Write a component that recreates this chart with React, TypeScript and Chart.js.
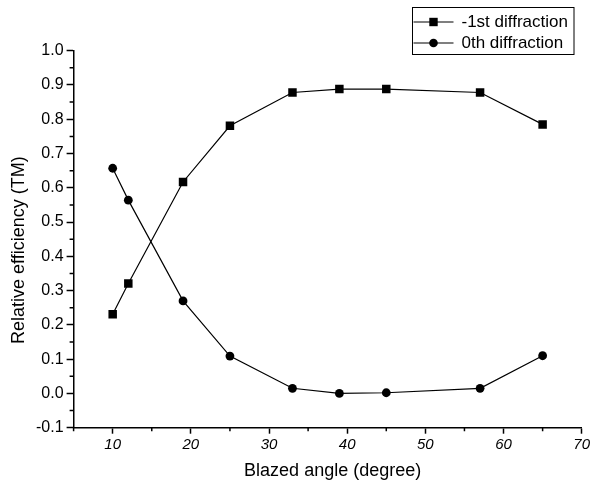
import React, { useEffect, useRef } from "react";
import { Chart, registerables } from "chart.js";

Chart.register(...registerables);

// ---- data ----
const blazedAngles = [10, 12, 19, 25, 33, 39, 45, 57, 65];
const firstOrder = [0.231, 0.321, 0.617, 0.781, 0.878, 0.888, 0.888, 0.878, 0.785];
const zeroOrder = [0.657, 0.564, 0.27, 0.109, 0.015, 0.0, 0.002, 0.015, 0.11];
const seriesLabels = ["-1st diffraction", "0th diffraction"];
const xTicks = [10, 20, 30, 40, 50, 60, 70];
const xMinorTicks = [5, 15, 25, 35, 45, 55, 65];
const yTicks = [-0.1, 0.0, 0.1, 0.2, 0.3, 0.4, 0.5, 0.6, 0.7, 0.8, 0.9, 1.0];
const yMinorTicks = [-0.05, 0.05, 0.15, 0.25, 0.35, 0.45, 0.55, 0.65, 0.75, 0.85, 0.95];
const xTitle = "Blazed angle (degree)";
const yTitle = "Relative efficiency (TM)";

const FONT = "'Liberation Sans', Arial, sans-serif";

const minorTickPlugin = {
  id: "minorTicks",
  afterDraw(chart: any) {
    const { ctx, chartArea, scales } = chart;
    ctx.save();
    ctx.strokeStyle = "#000";
    ctx.lineWidth = 1.5;
    ctx.beginPath();
    xMinorTicks.forEach((v) => {
      const px = scales.x.getPixelForValue(v);
      ctx.moveTo(px, chartArea.bottom);
      ctx.lineTo(px, chartArea.bottom + 3.5);
    });
    yMinorTicks.forEach((v) => {
      const py = scales.y.getPixelForValue(v);
      ctx.moveTo(chartArea.left, py);
      ctx.lineTo(chartArea.left - 4, py);
    });
    ctx.stroke();
    ctx.restore();
  },
};

const titlesPlugin = {
  id: "axisTitles",
  afterDraw(chart: any) {
    const { ctx, chartArea } = chart;
    ctx.save();
    ctx.fillStyle = "#000";
    ctx.font = `18px ${FONT}`;
    ctx.textAlign = "center";
    ctx.textBaseline = "middle";
    const cx = (chartArea.left + chartArea.right) / 2 + 5;
    ctx.fillText(xTitle, cx, chartArea.bottom + 43);
    const cy = (chartArea.top + chartArea.bottom) / 2 + 11;
    ctx.translate(19, cy);
    ctx.rotate(-Math.PI / 2);
    ctx.fillText(yTitle, 0, 0);
    ctx.restore();
  },
};

const legendPlugin = {
  id: "boxLegend",
  afterDraw(chart: any) {
    const { ctx } = chart;
    const x0 = 412.5;
    const y0 = 7.5;
    const w = 161.5;
    const h = 47;
    ctx.save();
    ctx.fillStyle = "#fff";
    ctx.fillRect(x0, y0, w, h);
    ctx.strokeStyle = "#000";
    ctx.lineWidth = 1;
    ctx.strokeRect(x0, y0, w, h);
    chart.data.datasets.forEach((ds: any, i: number) => {
      const ry = y0 + 14.5 + i * 21;
      ctx.strokeStyle = "#000";
      ctx.lineWidth = 1.2;
      ctx.beginPath();
      ctx.moveTo(x0 + 1, ry);
      ctx.lineTo(x0 + 41, ry);
      ctx.stroke();
      ctx.fillStyle = "#000";
      const mx = x0 + 21;
      if (ds.pointStyle === "rect") {
        ctx.fillRect(mx - 4.2, ry - 4.2, 8.4, 8.4);
      } else {
        ctx.beginPath();
        ctx.arc(mx, ry, 4.3, 0, Math.PI * 2);
        ctx.fill();
      }
      ctx.font = `17px ${FONT}`;
      ctx.textAlign = "left";
      ctx.textBaseline = "middle";
      ctx.fillText(ds.label, x0 + 49, ry);
    });
    ctx.restore();
  },
};

export default function App() {
  const canvasRef = useRef<HTMLCanvasElement | null>(null);

  useEffect(() => {
    if (!canvasRef.current) return;
    const chart = new Chart(canvasRef.current, {
      type: "line",
      data: {
        datasets: [
          {
            label: seriesLabels[0],
            data: blazedAngles.map((x, i) => ({ x, y: firstOrder[i] })),
            borderColor: "#000",
            backgroundColor: "#000",
            borderWidth: 1.2,
            pointStyle: "rect",
            pointRadius: 6,
            pointBorderWidth: 0,
            pointBackgroundColor: "#000",
            tension: 0,
          },
          {
            label: seriesLabels[1],
            data: blazedAngles.map((x, i) => ({ x, y: zeroOrder[i] })),
            borderColor: "#000",
            backgroundColor: "#000",
            borderWidth: 1.2,
            pointStyle: "circle",
            pointRadius: 4.4,
            pointBorderWidth: 0,
            pointBackgroundColor: "#000",
            tension: 0,
          },
        ],
      },
      options: {
        animation: false,
        responsive: false,
        layout: { padding: { top: 50.7, right: 11.3, left: 0, bottom: 0 } },
        plugins: {
          legend: { display: false },
          tooltip: { enabled: false },
        },
        scales: {
          x: {
            type: "linear",
            min: 5,
            max: 70,
            afterBuildTicks: (s: any) => {
              s.ticks = xTicks.map((v) => ({ value: v }));
            },
            afterFit: (s: any) => {
              s.height = 58.3;
            },
            ticks: {
              color: "#000",
              font: { family: FONT, size: 15, style: "italic" },
              padding: 2,
              maxRotation: 0,
              autoSkip: false,
              callback: (v: any) => String(v),
            },
            grid: {
              display: true,
              drawOnChartArea: false,
              drawTicks: true,
              tickLength: 6,
              tickColor: "#000",
              tickWidth: 1.5,
            },
            border: { display: true, color: "#000", width: 1.5 },
          },
          y: {
            type: "linear",
            min: -0.1,
            max: 1.0,
            afterBuildTicks: (s: any) => {
              s.ticks = yTicks.map((v) => ({ value: v }));
            },
            afterFit: (s: any) => {
              s.width = 73.6;
            },
            ticks: {
              color: "#000",
              font: { family: FONT, size: 16 },
              padding: 3,
              autoSkip: false,
              callback: (v: any) => Number(v).toFixed(1),
            },
            grid: {
              display: true,
              drawOnChartArea: false,
              drawTicks: true,
              tickLength: 7,
              tickColor: "#000",
              tickWidth: 1.5,
            },
            border: { display: true, color: "#000", width: 1.5 },
          },
        },
      },
      plugins: [minorTickPlugin, titlesPlugin, legendPlugin],
    } as any);
    return () => chart.destroy();
  }, []);

  return (
    <div style={{ position: "absolute", left: 0, top: 0, width: 593, height: 486, background: "#fff" }}>
      <canvas ref={canvasRef} width={593} height={486} />
    </div>
  );
}
